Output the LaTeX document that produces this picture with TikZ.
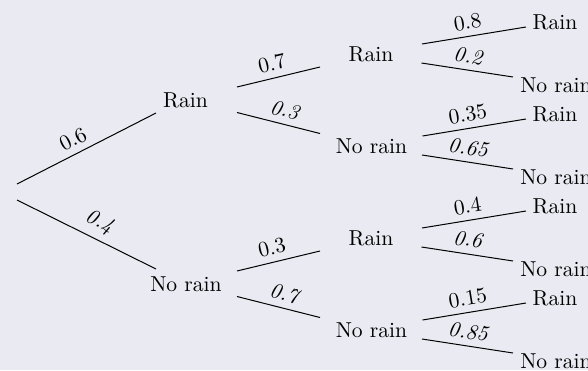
\documentclass[tikz,border=0pt]{standalone}
\definecolor{bgc}{RGB}{234,234,242}
\begin{document}
\begin{tikzpicture}[x=0.5pt,y=-0.5pt,
  font=\fontsize{10.8}{13}\selectfont,
  br/.style={line width=0.5pt, black},
  lbl/.style={above, sloped, inner sep=3.2pt},
  leaf/.style={inner sep=0pt}]
\fill[bgc] (0,0) rectangle (588,370);
\useasboundingbox (0,0) rectangle (588,370);
% nodes
\coordinate (R) at (1,192);
\node[leaf] (A) at (185.5,100) {Rain};
\node[leaf] (B) at (186,284) {No rain};
\node[leaf] (AA) at (371,54) {Rain};
\node[leaf] (AB) at (371.5,146) {No rain};
\node[leaf] (BA) at (371,238) {Rain};
\node[leaf] (BB) at (371.5,330) {No rain};
\node[leaf] (AAr) at (555,22.5) {Rain};
\node[leaf] (AAn) at (556,85.5) {No rain};
\node[leaf] (ABr) at (555,114.5) {Rain};
\node[leaf] (ABn) at (556,177.5) {No rain};
\node[leaf] (BAr) at (555,206.5) {Rain};
\node[leaf] (BAn) at (556,269.5) {No rain};
\node[leaf] (BBr) at (555,298.5) {Rain};
\node[leaf] (BBn) at (556,361.5) {No rain};
% level 1
\draw[br] ([shift={(16,-8)}]R) -- node[lbl,pos=0.45]{0.6} ([shift={(-29.5,13)}]A.center);
\draw[br] ([shift={(16,8)}]R) -- node[lbl,pos=0.54]{\textit{0.4}} ([shift={(-30,-15)}]B.center);
% level 2
\draw[br] ([shift={(51.5,-13)}]A.center) -- node[lbl,pos=0.46]{0.7} ([shift={(-51,13)}]AA.center);
\draw[br] ([shift={(51.5,12.5)}]A.center) -- node[lbl,pos=0.54]{\textit{0.3}} ([shift={(-51.5,-12.5)}]AB.center);
\draw[br] ([shift={(51,-13)}]B.center) -- node[lbl,pos=0.46]{0.3} ([shift={(-51,13)}]BA.center);
\draw[br] ([shift={(51,12.5)}]B.center) -- node[lbl,pos=0.54]{\textit{0.7}} ([shift={(-51.5,-12.5)}]BB.center);
% level 3
\draw[br] ([shift={(51,-10)}]AA.center) -- node[lbl,pos=0.46]{0.8} ([shift={(-29,4.5)}]AAr.center);
\draw[br] ([shift={(50.5,9)}]AA.center) -- node[lbl,pos=0.49]{\textit{0.2}} ([shift={(-43,-8.5)}]AAn.center);
\draw[br] ([shift={(51,-10)}]AB.center) -- node[lbl,pos=0.46]{0.35} ([shift={(-29,4.5)}]ABr.center);
\draw[br] ([shift={(50.5,9)}]AB.center) -- node[lbl,pos=0.49]{\textit{0.65}} ([shift={(-43,-8.5)}]ABn.center);
\draw[br] ([shift={(51,-10)}]BA.center) -- node[lbl,pos=0.46]{0.4} ([shift={(-29,4.5)}]BAr.center);
\draw[br] ([shift={(50.5,9)}]BA.center) -- node[lbl,pos=0.49]{\textit{0.6}} ([shift={(-43,-8.5)}]BAn.center);
\draw[br] ([shift={(51,-10)}]BB.center) -- node[lbl,pos=0.46]{0.15} ([shift={(-29,4.5)}]BBr.center);
\draw[br] ([shift={(50.5,9)}]BB.center) -- node[lbl,pos=0.49]{\textit{0.85}} ([shift={(-43,-8.5)}]BBn.center);
\end{tikzpicture}
\end{document}
